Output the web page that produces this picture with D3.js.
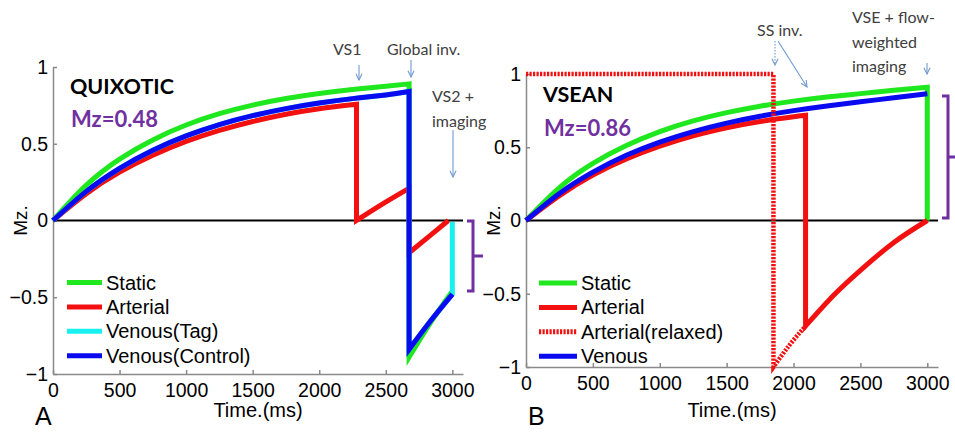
<!DOCTYPE html>
<html>
<head>
<meta charset="utf-8">
<script src="https://cdn.jsdelivr.net/npm/d3@7"></script>
<style>
  body { margin: 0; background: #fff; }
  svg { display: block; }
  .tick text { font-family: "Liberation Sans", Arial, sans-serif; font-size: 19.5px; fill: #000; }
  .axis path, .axis line { stroke: #8a8a8a; stroke-width: 1.5; }
  .note { font-family: Lato, "Open Sans", sans-serif; font-size: 16px; fill: #404040; }
  .lab { font-family: "Liberation Sans", Arial, sans-serif; fill: #000; }
</style>
</head>
<body>
<svg id="chart" width="955" height="433"></svg>
<script>
// ticks
const xTicks = [0, 500, 1000, 1500, 2000, 2500, 3000];
const yTicks = [-1, -0.5, 0, 0.5, 1];

// ---- panel A : QUIXOTIC  (each series = list of pieces, [time ms, Mz])
const quixStatic = [
  [[0, 0], [250, 0.23], [500, 0.40], [750, 0.525], [1000, 0.622], [1250, 0.696], [1500, 0.752],
   [1750, 0.795], [2000, 0.828], [2250, 0.853], [2500, 0.874], [2675, 0.89]],
  [[2675, -0.89], [2840, -0.66], [3000, -0.46]]
];
const quixArterial = [
  [[0, 0], [250, 0.175], [500, 0.315], [750, 0.425], [1000, 0.515], [1250, 0.587], [1500, 0.645],
   [1750, 0.692], [2000, 0.728], [2280, 0.757]],
  [[2280, 0], [2480, 0.11], [2675, 0.21]],
  [[2675, -0.21], [2830, -0.10], [2970, 0]]
];
const quixVenousTag = [
  [[0, 0], [250, 0.19], [500, 0.34], [750, 0.458], [1000, 0.551], [1250, 0.625], [1500, 0.683],
   [1750, 0.729], [2000, 0.765], [2250, 0.794], [2500, 0.818], [2675, 0.84]],
  [[2675, -0.84], [2840, -0.65], [3000, -0.48]],
  [[3000, -0.01]]
];
const quixVenousCtrl = [
  [[0, 0], [250, 0.19], [500, 0.34], [750, 0.458], [1000, 0.551], [1250, 0.625], [1500, 0.683],
   [1750, 0.729], [2000, 0.765], [2250, 0.794], [2500, 0.818], [2675, 0.84]],
  [[2675, -0.84], [2840, -0.65], [3000, -0.48]]
];
const quixLegend = ["Static", "Arterial", "Venous(Tag)", "Venous(Control)"];

// ---- panel B : VSEAN
const vseanStatic = [
  [[0, 0], [250, 0.225], [500, 0.39], [750, 0.512], [1000, 0.607], [1250, 0.68], [1500, 0.736],
   [1750, 0.78], [2000, 0.815], [2250, 0.843], [2500, 0.866], [2750, 0.889], [3000, 0.91]],
  [[3000, 0]]
];
const vseanArterial = [
  [[0, 0], [250, 0.17], [500, 0.31], [750, 0.42], [1000, 0.507], [1250, 0.578], [1500, 0.633],
   [1750, 0.676], [2000, 0.708], [2090, 0.718]],
  [[2090, -0.72], [2300, -0.51], [2500, -0.34], [2750, -0.15], [3000, 0]]
];
const vseanArterialRelaxed = [
  [[0, 1], [1850, 1]],
  [[1850, -1], [1970, -0.85], [2090, -0.72]]
];
const vseanVenous = [
  [[0, 0], [250, 0.185], [500, 0.33], [750, 0.445], [1000, 0.535], [1250, 0.607], [1500, 0.665],
   [1750, 0.712], [2000, 0.75], [2250, 0.782], [2500, 0.81], [2750, 0.838], [3000, 0.865]]
];
const vseanLegend = ["Static", "Arterial", "Arterial(relaxed)", "Venous"];

const GREEN = "#1fe81f", RED = "#f21010", CYAN = "#19f0f0", BLUE = "#0a0af0", PURPLE = "#7030a0", ARROW = "#6f9bd0";

const svg = d3.select("#chart");

function piecesPath(pieces, x, y) {
  const line = d3.line().x(d => x(d[0])).y(d => y(d[1])).curve(d3.curveNatural);
  return pieces.map((p, i) => {
    if (p.length === 1) return "L" + x(p[0][0]) + "," + y(p[0][1]);
    const s = line(p);
    return i ? "L" + s.slice(1) : s;
  }).join("");
}

function drawPanel(o) {
  const g = svg.append("g");
  const x = d3.scaleLinear().domain([0, 3080]).range([o.left, o.right]);
  const y = d3.scaleLinear().domain([-1, 1]).range([o.bottom, o.top]);

  g.append("g").attr("class", "axis")
    .attr("transform", `translate(0,${o.bottom})`)
    .call(d3.axisBottom(x).tickValues(xTicks).tickSize(-4).tickSizeOuter(0).tickPadding(9)
      .tickFormat(d3.format("d")));
  g.append("g").attr("class", "axis")
    .attr("transform", `translate(${o.left},0)`)
    .call(d3.axisLeft(y).tickValues(yTicks).tickSize(-4).tickSizeOuter(0).tickPadding(5)
      .tickFormat(d3.format("")));

  // zero line
  g.append("line").attr("x1", x(0)).attr("x2", x(3080)).attr("y1", y(0)).attr("y2", y(0))
    .attr("stroke", "#000").attr("stroke-width", 2);

  o.series.forEach(s => {
    g.append("path").attr("d", piecesPath(s.data, x, y))
      .attr("fill", "none").attr("stroke", s.color).attr("stroke-width", s.dash ? 4.5 : 5)
      .attr("stroke-dasharray", s.dash ? "2.2,1.3" : null);
  });

  // legend
  o.legend.forEach((name, i) => {
    const s = o.legendSeries[i];
    const ly = o.legY + i * 24.4;
    g.append("line").attr("x1", o.legX).attr("x2", o.legX + o.legW).attr("y1", ly).attr("y2", ly)
      .attr("stroke", s.color).attr("stroke-width", 5)
      .attr("stroke-dasharray", s.dash ? "2.2,1.3" : null);
    g.append("text").attr("class", "lab").attr("x", o.legX + o.legW + 4).attr("y", ly + 7)
      .attr("font-size", 20).text(name);
  });

  // labels
  g.append("text").attr("class", "lab").attr("text-anchor", "middle")
    .attr("x", (o.left + o.right) / 2).attr("y", 417).attr("font-size", 20).text("Time.(ms)");
  g.append("text").attr("class", "lab").attr("text-anchor", "middle")
    .attr("transform", `translate(${o.left - 26},${y(0)}) rotate(-90)`)
    .attr("font-size", 19).text("Mz.");
  g.append("text").attr("class", "lab").attr("x", o.letterX).attr("y", 425)
    .attr("font-size", 25).text(o.letter);

  g.append("text").attr("x", o.titleX).attr("y", o.titleY)
    .attr("font-family", "Lato, sans-serif").attr("font-weight", 700).attr("font-size", 21.5)
    .attr("fill", "#000").text(o.title);
  g.append("text").attr("x", o.titleX + 1).attr("y", o.mzY)
    .attr("font-family", "Lato, sans-serif").attr("font-weight", 700).attr("font-size", 22)
    .attr("fill", PURPLE).text(o.mz);

  // bracket
  const b = o.bracket;
  g.append("path")
    .attr("d", `M${b.x - 6},${b.y0}H${b.x}V${b.y1}H${b.x - 6}M${b.x},${(b.y0 + b.y1) / 2}H${b.x + b.tip}`)
    .attr("fill", "none").attr("stroke", PURPLE).attr("stroke-width", 3);

  o.notes.forEach(n => {
    n.lines.forEach((t, i) => {
      g.append("text").attr("class", "note").attr("x", n.x).attr("y", n.y + i * 24.5).text(t);
    });
  });
  o.arrows.forEach(a => {
    g.append("line").attr("x1", a[0]).attr("y1", a[1]).attr("x2", a[2]).attr("y2", a[3])
      .attr("stroke", ARROW).attr("stroke-width", 1.1).attr("stroke-dasharray", a[4] ? "1.5,1.5" : null);
    const ang = Math.atan2(a[3] - a[1], a[2] - a[0]);
    const h = 7, sp = 0.45;
    g.append("path")
      .attr("d", `M${a[2] - h * Math.cos(ang - sp)},${a[3] - h * Math.sin(ang - sp)}L${a[2]},${a[3]}L${a[2] - h * Math.cos(ang + sp)},${a[3] - h * Math.sin(ang + sp)}`)
      .attr("fill", "none").attr("stroke", ARROW).attr("stroke-width", 1.1);
  });
}

const sA = [
  { data: quixStatic, color: GREEN },
  { data: quixArterial, color: RED },
  { data: quixVenousTag, color: CYAN },
  { data: quixVenousCtrl, color: BLUE }
];
drawPanel({
  left: 53, right: 463, top: 67, bottom: 374,
  series: sA, legend: quixLegend, legendSeries: sA,
  legX: 67, legY: 282.5, legW: 35,
  title: "QUIXOTIC", titleX: 70, titleY: 94, mz: "Mz=0.48", mzY: 127,
  letter: "A", letterX: 35,
  bracket: { x: 473, y0: 221, y1: 291, tip: 10 },
  notes: [
    { x: 333, y: 55, lines: ["VS1"] },
    { x: 387, y: 55, lines: ["Global inv."] },
    { x: 432, y: 102, lines: ["VS2 +", "imaging"] }
  ],
  arrows: [[359, 65, 359, 80], [411, 60, 411, 77], [453, 130, 453, 177]]
});

const sB = [
  { data: vseanStatic, color: GREEN },
  { data: vseanArterial, color: RED },
  { data: vseanVenous, color: BLUE },
  { data: vseanArterialRelaxed, color: RED, dash: true }
];
drawPanel({
  left: 526, right: 938, top: 74, bottom: 367,
  series: sB, legend: vseanLegend, legendSeries: [sB[0], sB[1], sB[3], sB[2]],
  legX: 539, legY: 283, legW: 38,
  title: "VSEAN", titleX: 543, titleY: 102, mz: "Mz=0.86", mzY: 136,
  letter: "B", letterX: 528,
  bracket: { x: 948, y0: 96, y1: 218, tip: 9 },
  notes: [
    { x: 757, y: 36, lines: ["SS inv."] },
    { x: 852, y: 23, lines: ["VSE + flow-", "weighted", "imaging"] }
  ],
  arrows: [[775, 41, 775, 65, true], [778, 41, 807, 87], [927, 63, 927, 74]]
});
</script>
</body>
</html>
